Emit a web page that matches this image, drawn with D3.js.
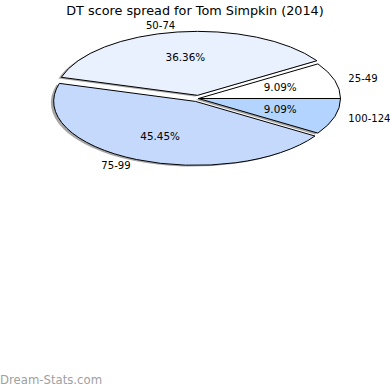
<!DOCTYPE html>
<html>
<head>
<meta charset="utf-8">
<script src="https://cdn.jsdelivr.net/npm/d3@7"></script>
<style>
html,body{margin:0;padding:0;background:#fff;}
svg{display:block;}
text{font-family:"DejaVu Sans",sans-serif;}
</style>
</head>
<body>
<svg id="chart" width="390" height="390"></svg>
<script>
const title = "DT score spread for Tom Simpkin (2014)";
const categories = ["25-49", "50-74", "75-99", "100-124"];
const counts = [1, 4, 5, 1];
const explode = [0, 0.05, 0.05, 0];
const colors = ["#ffffff", "#e9f0fe", "#c5d9fd", "#b3d4fe"];
const watermark = "Dream-Stats.com";

const svg = d3.select("#chart");
const cx = 198.5, cy = 98.5, rx = 142, ry = 64;
const x = d3.scaleLinear().domain([-1, 1]).range([cx - rx, cx + rx]);
const y = d3.scaleLinear().domain([-1, 1]).range([cy + ry, cy - ry]);

const total = d3.sum(counts);
const pie = d3.pie().sort(null).startAngle(Math.PI / 2).endAngle(Math.PI / 2 - 2 * Math.PI);
const arcs = pie(counts).map((d, i) => {
  const mid = (d.startAngle + d.endAngle) / 2;
  const theta = Math.PI / 2 - mid;
  const ox = explode[i] * Math.cos(theta), oy = explode[i] * Math.sin(theta);
  return Object.assign(d, {i, theta, ox, oy});
});
const arcGen = d3.arc().innerRadius(0).outerRadius(1);

const shadowG = svg.append("g");
arcs.forEach(d => {
  shadowG.append("g")
    .attr("transform", `translate(${x(d.ox - 0.02)},${y(d.oy - 0.02)}) scale(${rx},${ry})`)
    .append("path")
    .attr("d", arcGen(d))
    .attr("fill", "#000")
    .attr("fill-opacity", 0.35)
    .attr("stroke", "none");
});

const wedgeG = svg.append("g");
arcs.forEach(d => {
  wedgeG.append("g")
    .attr("transform", `translate(${x(d.ox)},${y(d.oy)}) scale(${rx},${ry})`)
    .append("path")
    .attr("d", arcGen(d))
    .attr("fill", colors[d.i])
    .attr("stroke", "#000")
    .attr("stroke-width", 1)
    .attr("vector-effect", "non-scaling-stroke");
});

arcs.forEach(d => {
  const lx = d.ox + 1.1 * Math.cos(d.theta);
  const ly = d.oy + 1.1 * Math.sin(d.theta);
  svg.append("text")
    .attr("x", x(lx)).attr("y", y(ly))
    .attr("dy", "0.35em")
    .attr("text-anchor", lx > 0 ? "start" : "end")
    .attr("font-size", 10.1)
    .attr("fill", "#000")
    .text(categories[d.i]);
  const px = d.ox + 0.6 * Math.cos(d.theta);
  const py = d.oy + 0.6 * Math.sin(d.theta);
  svg.append("text")
    .attr("x", x(px)).attr("y", y(py))
    .attr("dy", "0.35em")
    .attr("text-anchor", "middle")
    .attr("font-size", 10.4)
    .attr("fill", "#000")
    .text((counts[d.i] / total * 100).toFixed(2) + "%");
});

svg.append("text")
  .attr("x", 195).attr("y", 15)
  .attr("text-anchor", "middle")
  .attr("font-size", 12.8)
  .attr("fill", "#000")
  .text(title);

svg.append("text")
  .attr("x", 0).attr("y", 384)
  .attr("font-size", 11.7)
  .attr("fill", "#a0a0a0")
  .text(watermark);
</script>
</body>
</html>
